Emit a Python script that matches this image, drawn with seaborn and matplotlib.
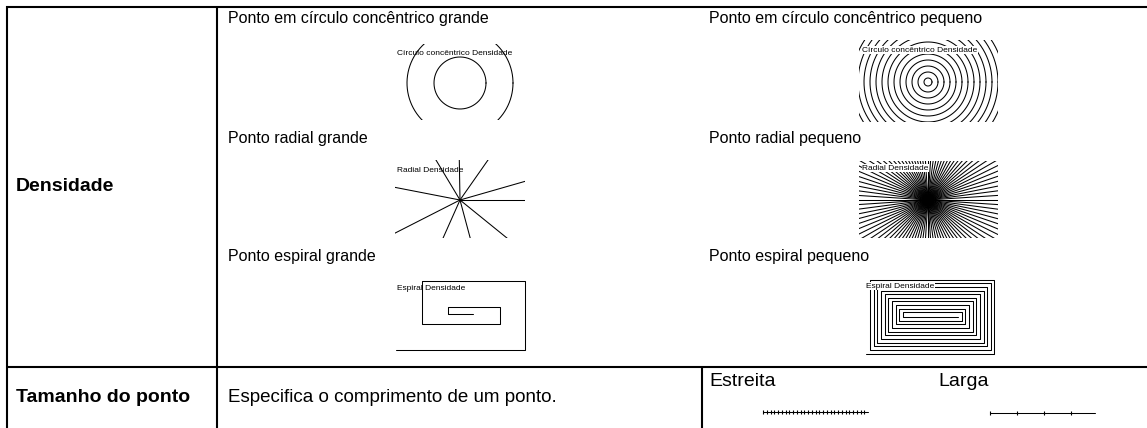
import numpy as np
import pandas as pd
import matplotlib.pyplot as plt
import seaborn as sns
from matplotlib.patches import Rectangle

# table text
row_labels = ["Densidade", "Tamanho do ponto"]
left_titles = ["Ponto em círculo concêntrico grande", "Ponto radial grande", "Ponto espiral grande"]
right_titles = ["Ponto em círculo concêntrico pequeno", "Ponto radial pequeno", "Ponto espiral pequeno"]
sample_labels = ["Círculo concêntrico Densidade", "Radial Densidade", "Espiral Densidade"]
size_text = "Especifica o comprimento de um ponto."
size_labels = ["Estreita", "Larga"]

# illustration values
big_radii = [26, 53, 80]
small_radii = [4, 10, 16, 22, 28, 34, 40, 46, 52, 58, 64, 70, 76, 82, 88, 94, 100]
big_angles = [0, 16, 55, 91, 121, 169, 207, 246, 285, 321]
small_ray_count = 96
big_spiral_h = [25, 52, 78, 103, 129]
big_spiral_v = [7, 17, 43, 69]
small_spiral_turns = 10
small_spiral_gap = 3.65
dot_lengths = [3.75, 27]

sns.set_style("white")
plt.rcParams['font.family'] = ['Liberation Sans', 'DejaVu Sans']
plt.rcParams['text.color'] = 'black'

fig = plt.figure(figsize=(11.47, 4.28), dpi=100)
ax = fig.add_axes([0, 0, 1, 1])
ax.set_xlim(0, 1147)
ax.set_ylim(428, 0)
ax.axis('off')

LW = 0.75


def draw_lines(df, box=None):
    n0 = len(ax.lines)
    sns.lineplot(data=df, x='x', y='y', units='u', estimator=None, sort=False,
                 color='black', lw=LW, legend=False, ax=ax)
    if box is not None:
        rect = Rectangle((box[0], box[1]), box[2] - box[0], box[3] - box[1],
                         transform=ax.transData, fill=False, lw=0)
        ax.add_patch(rect)
        for ln in ax.lines[n0:]:
            ln.set_clip_path(rect)


def circles(cx, cy, radii):
    t = np.linspace(0, 2 * np.pi, 200)
    parts = []
    for i, r in enumerate(radii):
        parts.append(pd.DataFrame({'x': cx + r * np.cos(t), 'y': cy + r * np.sin(t), 'u': i}))
    return pd.concat(parts)


def rays(cx, cy, angles):
    parts = []
    for i, a in enumerate(angles):
        a = np.deg2rad(a)
        parts.append(pd.DataFrame({'x': [cx, cx + 200 * np.cos(a)],
                                   'y': [cy, cy - 200 * np.sin(a)], 'u': i}))
    return pd.concat(parts)


def spiral(x0, y0, hs, vs):
    # outward rectangular spiral: left, up, right, down
    xs, ys = [x0], [y0]
    x, y = x0, y0
    for k in range(len(hs)):
        x += hs[k] * (-1 if k % 2 == 0 else 1)
        xs.append(x); ys.append(y)
        if k < len(vs):
            y += vs[k] * (-1 if k % 2 == 0 else 1)
            xs.append(x); ys.append(y)
    return pd.DataFrame({'x': xs, 'y': ys, 'u': 0})


# table grid
grid_kw = dict(color='black', lw=1.5, solid_capstyle='butt')
ax.plot([6, 1147], [7, 7], **grid_kw)
ax.plot([7, 7], [6, 428], **grid_kw)
ax.plot([217, 217], [6, 428], **grid_kw)
ax.plot([6, 1147], [367, 367], **grid_kw)
ax.plot([702, 702], [367, 428], **grid_kw)

fs = 11.5
fs_big = 14
ax.text(16, 186, row_labels[0], fontsize=fs_big, fontweight='bold', va='center')
ax.text(16, 398, row_labels[1], fontsize=fs_big, fontweight='bold', va='center')
ax.text(228, 398, size_text, fontsize=13.5, va='center')

for i, (tl, tr) in enumerate(zip(left_titles, right_titles)):
    y = [18, 138, 256][i]
    ax.text(228, y, tl, fontsize=fs, va='center')
    ax.text(709, y, tr, fontsize=fs, va='center')

# concentric
draw_lines(circles(460, 83, big_radii), box=(395, 44, 525, 120))
draw_lines(circles(928, 82, small_radii), box=(859, 40, 998, 122))
# radial
draw_lines(rays(460, 200, big_angles), box=(395, 160, 525, 238))
small_angles = list(np.arange(small_ray_count) * 360 / small_ray_count)
draw_lines(rays(928, 200, small_angles), box=(859, 161, 998, 238))
# spiral
draw_lines(spiral(473, 314, big_spiral_h, big_spiral_v))
small_h = [55 + small_spiral_gap * k for k in range(2 * small_spiral_turns + 1)]
small_v = [4.6 + small_spiral_gap * k for k in range(2 * small_spiral_turns)]
draw_lines(spiral(958, 317, small_h, small_v))

lab_font = ['Liberation Sans Narrow', 'Liberation Sans', 'DejaVu Sans']
lab_fs = 6
for (x, y), s in zip([(397, 53), (397, 170), (397, 288)], sample_labels):
    ax.text(x, y, s, fontsize=lab_fs, family=lab_font, va='center')
for (x, y), s in zip([(862, 50), (862, 168), (866, 286)], sample_labels):
    ax.text(x, y, s, fontsize=lab_fs, family=lab_font, va='center',
            bbox=dict(facecolor='white', edgecolor='none', pad=0.3))

# dot size samples
ax.text(709, 381, size_labels[0], fontsize=fs_big, va='center')
ax.text(938, 381, size_labels[1], fontsize=fs_big, va='center')
for (x0, x1, y), d in zip([(763, 868, 412), (990, 1095, 413)], dot_lengths):
    ax.plot([x0, x1], [y, y], color='black', lw=LW)
    ticks = np.arange(x0, x1 - 1, d)
    ax.plot(ticks, [y] * len(ticks), ls='none', marker='|', ms=2.5, mew=0.8, color='black')

fig.savefig("out.png", dpi=100)
